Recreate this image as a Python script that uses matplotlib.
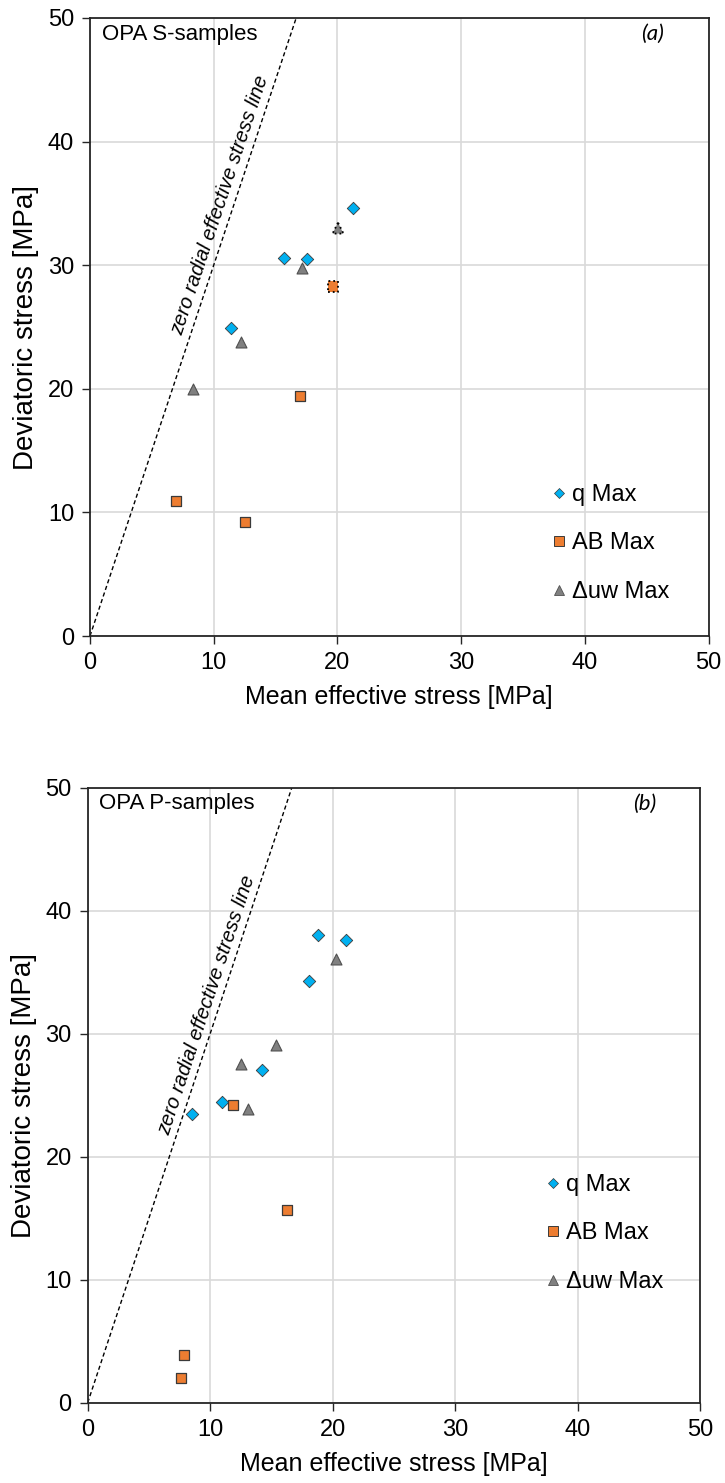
import numpy as np
import matplotlib
matplotlib.use("Agg")
import matplotlib.pyplot as plt
from matplotlib.lines import Line2D

plt.rcParams['font.family'] = ['Liberation Sans', 'DejaVu Sans']

# ---------------- data ----------------
# Panel (a): OPA S-samples
s_q_p = [21.3, 15.7, 17.55, 11.4]
s_q_q = [34.6, 30.6, 30.5, 24.9]
s_ab_p = [16.95, 6.95, 12.55]
s_ab_q = [19.45, 10.95, 9.2]
s_ab_dot_p = [19.65]
s_ab_dot_q = [28.3]
s_uw_p = [17.1, 12.2, 8.3]
s_uw_q = [29.75, 23.8, 20.0]
s_uw_dot_p = [20.05]
s_uw_dot_q = [33.0]

# Panel (b): OPA P-samples
p_q_p = [18.8, 21.1, 18.1, 14.2, 11.0, 8.55]
p_q_q = [38.0, 37.6, 34.3, 27.05, 24.45, 23.5]
p_ab_p = [11.9, 16.25, 7.9, 7.6]
p_ab_q = [24.2, 15.7, 3.85, 2.03]
p_uw_p = [20.3, 15.4, 12.55, 13.1]
p_uw_q = [36.1, 29.1, 27.5, 23.9]

ticks = [0, 10, 20, 30, 40, 50]
line_p = np.array([0.0, 50.0 / 3.0])
line_q = 3.0 * line_p  # zero radial effective stress: q = 3 p'

legend_labels = ['q Max', 'AB Max', '\u0394uw Max']

# ---------------- style ----------------
C_Q = '#00B0F0'
C_AB = '#ED7D31'
C_UW = '#808080'
EDGE = '#3A3A3A'

fig = plt.figure(figsize=(7.25, 14.83), dpi=100)
ax1 = fig.add_axes([90 / 725, 1 - 636 / 1483, 618.5 / 725, 618 / 1483])
ax2 = fig.add_axes([87.7 / 725, 1 - 1402.7 / 1483, 612.3 / 725, 615 / 1483])


def style_axes(ax):
    ax.set_xlim(0, 50)
    ax.set_ylim(0, 50)
    ax.set_xticks(ticks)
    ax.set_yticks(ticks)
    ax.grid(True, color='#D9D9D9', linewidth=1.2, zorder=0)
    ax.set_axisbelow(True)
    for sp in ax.spines.values():
        sp.set_color('#262626')
        sp.set_linewidth(1.3)
    ax.tick_params(axis='both', direction='out', length=5.5, width=1.0,
                   color='#262626', labelsize=17, pad=6)
    ax.set_xlabel('Mean effective stress [MPa]', fontsize=18, labelpad=8)
    ax.set_ylabel('Deviatoric stress [MPa]', fontsize=20)
    ax.yaxis.set_label_coords(-0.083, 0.5)


def zero_line(ax, qc):
    ax.plot(line_p, line_q, color='black', linewidth=1.0,
            linestyle=(0, (3.0, 2.0)), zorder=2)
    p0 = ax.transData.transform((0, 0))
    p1 = ax.transData.transform((line_p[1], line_q[1]))
    ang = np.degrees(np.arctan2(p1[1] - p0[1], p1[0] - p0[0]))
    th = np.radians(ang)
    off = 9.0
    ax.annotate('zero radial effective stress line', xy=(qc / 3.0, qc),
                xytext=(-np.sin(th) * off, np.cos(th) * off),
                textcoords='offset points', rotation=ang,
                rotation_mode='anchor', ha='center', va='center',
                fontsize=14.5, style='italic', zorder=3)


def markers(ax, qp, qq, abp, abq, uwp, uwq):
    ax.scatter(qp, qq, marker='D', s=40, facecolor=C_Q, edgecolor=EDGE,
               linewidths=0.6, zorder=4)
    ax.scatter(abp, abq, marker='s', s=58, facecolor=C_AB, edgecolor=EDGE,
               linewidths=0.9, zorder=4)
    ax.scatter(uwp, uwq, marker='^', s=62, facecolor=C_UW, edgecolor='#505050',
               linewidths=0.8, zorder=4)


def add_legend(ax, x, y):
    handles = [
        Line2D([], [], linestyle='none', marker='D', markersize=5.2,
               markerfacecolor=C_Q, markeredgecolor=EDGE, markeredgewidth=0.5),
        Line2D([], [], linestyle='none', marker='s', markersize=6.5,
               markerfacecolor=C_AB, markeredgecolor=EDGE, markeredgewidth=0.7),
        Line2D([], [], linestyle='none', marker='^', markersize=6.5,
               markerfacecolor=C_UW, markeredgecolor='#505050', markeredgewidth=0.6),
    ]
    ax.legend(handles, legend_labels, loc='upper left', bbox_to_anchor=(x, y),
              frameon=False, fontsize=17, handlelength=0.5, handletextpad=0.3,
              labelspacing=1.12, borderpad=0, borderaxespad=0)


# ---- panel (a)
style_axes(ax1)
zero_line(ax1, 34.5)
markers(ax1, s_q_p, s_q_q, s_ab_p, s_ab_q, s_uw_p, s_uw_q)
ax1.scatter(s_ab_dot_p, s_ab_dot_q, marker='s', s=58, facecolor=C_AB,
            edgecolor='black', linewidths=1.3, linestyle=':', zorder=5)
ax1.scatter(s_uw_dot_p, s_uw_dot_q, marker='^', s=62, facecolor=C_UW,
            edgecolor='black', linewidths=1.3, linestyle=':', zorder=5)
add_legend(ax1, 0.748, 0.246)
ax1.text(0.019, 0.974, 'OPA S-samples', transform=ax1.transAxes,
         fontsize=16, ha='left', va='center')
ax1.text(0.909, 0.974, '(a)', transform=ax1.transAxes, fontsize=16,
         style='italic', ha='center', va='center', family=['Lato', 'DejaVu Sans'])

# ---- panel (b)
style_axes(ax2)
zero_line(ax2, 32.0)
markers(ax2, p_q_p, p_q_q, p_ab_p, p_ab_q, p_uw_p, p_uw_q)
add_legend(ax2, 0.75, 0.372)
ax2.text(0.019, 0.974, 'OPA P-samples', transform=ax2.transAxes,
         fontsize=16, ha='left', va='center')
ax2.text(0.909, 0.974, '(b)', transform=ax2.transAxes, fontsize=16,
         style='italic', ha='center', va='center', family=['Lato', 'DejaVu Sans'])

fig.savefig('out.png', dpi=100)
